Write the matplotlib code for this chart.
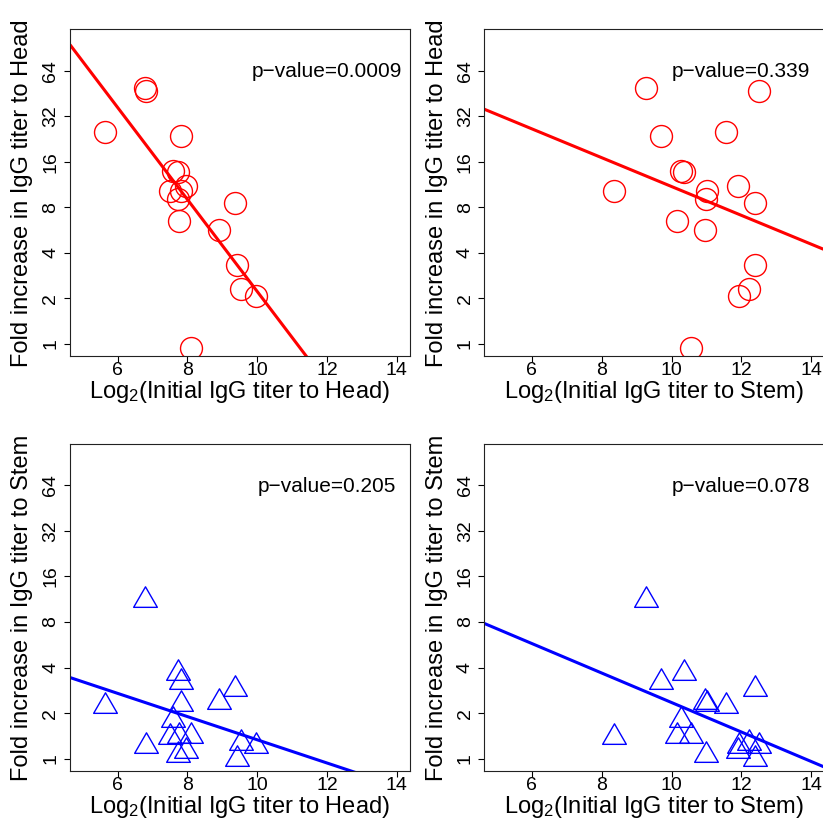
import numpy as np
import matplotlib
matplotlib.use('Agg')
import matplotlib.pyplot as plt
from matplotlib.path import Path
from matplotlib.ticker import NullLocator

plt.rcParams['font.family'] = ['Liberation Sans', 'DejaVu Sans']
plt.rcParams['mathtext.fontset'] = 'custom'
plt.rcParams['mathtext.rm'] = 'Liberation Sans'
plt.rcParams['mathtext.it'] = 'Liberation Sans:italic'
plt.rcParams['mathtext.bf'] = 'Liberation Sans:bold'

# ---- data (one entry per subject) ----
head_initial = [5.64, 6.80, 6.82, 7.81, 7.58, 7.74, 7.50, 7.72, 7.83, 7.97,
                7.75, 8.91, 9.35, 9.41, 9.54, 9.96, 8.09]
stem_initial = [11.55, 9.28, 12.50, 9.70, 10.27, 10.36, 8.35, 10.99, 11.02, 11.90,
                10.16, 10.97, 12.40, 12.40, 12.21, 11.92, 10.55]
head_fold = [25.1, 49.5, 47.2, 23.6, 14.0, 13.6, 10.3, 9.1, 10.2, 11.0,
             6.5, 5.7, 8.6, 3.3, 2.3, 2.07, 0.94]
stem_fold = [2.23, 11.2, 1.21, 3.23, 1.79, 3.67, 1.385, 1.05, 2.28, 1.13,
             1.40, 2.37, 2.89, 0.99, 1.26, 1.21, 1.42]
p_values = ["0.0009", "0.339", "0.205", "0.078"]
y_ticks = [1, 2, 4, 8, 16, 32, 64]
x_ticks = [6, 8, 10, 12, 14]

W, H = 823, 819
fig = plt.figure(figsize=(W / 100, H / 100), dpi=100)

tri = Path([(0, 1.555), (1.347, -0.778), (-1.347, -0.778), (0, 1.555)],
           [Path.MOVETO, Path.LINETO, Path.LINETO, Path.CLOSEPOLY])

panels = [
    (0, 0, head_initial, head_fold, 'Head', 'Head', 'red', 'o', p_values[0]),
    (0, 1, stem_initial, head_fold, 'Stem', 'Head', 'red', 'o', p_values[1]),
    (1, 0, head_initial, stem_fold, 'Head', 'Stem', 'blue', tri, p_values[2]),
    (1, 1, stem_initial, stem_fold, 'Stem', 'Stem', 'blue', tri, p_values[3]),
]

lefts = [70, 484.3]
tops = [29.3, 444]
pw, ph = 339.5, 326.7

for row, col, x, y, xname, yname, color, marker, p in panels:
    left, top = lefts[col], tops[row]
    ax = fig.add_axes([left / W, 1 - (top + ph) / H, pw / W, ph / H])
    ax.set_yscale('log', base=2)
    ax.set_xlim(4.64, 14.36)
    ax.set_ylim(10 ** -0.08, 10 ** 2.08)
    ax.yaxis.set_minor_locator(NullLocator())
    ax.xaxis.set_minor_locator(NullLocator())
    ax.set_xticks(x_ticks, labels=[str(v) for v in x_ticks])
    ax.set_yticks(y_ticks, labels=[str(v) for v in y_ticks], rotation=90, va='center')
    ax.tick_params(direction='out', length=4.1, width=0.8, labelsize=14, color='black')
    ax.tick_params(axis='x', pad=0.3)
    ax.tick_params(axis='y', pad=3.5)
    for s in ax.spines.values():
        s.set_linewidth(0.8)
        s.set_color('#222222')

    xa = np.array(x)
    ly = np.log2(np.array(y))
    slope, icpt = np.polyfit(xa, ly, 1)
    xs = np.array(ax.get_xlim())
    ax.plot(xs, 2 ** (icpt + slope * xs), color=color, lw=2.2, solid_capstyle='butt')

    if marker == 'o':
        ax.plot(xa, y, ls='none', marker='o', ms=15.8, mfc='none', mec=color, mew=1.0)
    else:
        ax.plot(xa, y, ls='none', marker=marker, ms=19.7, mfc='none', mec=color, mew=1.0)

    ax.annotate('p\u2212value=' + p, xy=(12, 64), xycoords='data',
                xytext=(0, -6.5), textcoords='offset pixels',
                ha='center', va='baseline', fontsize=15)

    fig.text((left + pw / 2 - 0.5) / W, 1 - (top + 368.5) / H,
             'Log$_2$(Initial IgG titer to ' + xname + ')',
             ha='center', va='baseline', fontsize=17)
    fig.text((left - 47.7) / W, 1 - (top + 163.4) / H,
             'Fold increase in IgG titer to ' + yname,
             ha='center', va='center', rotation=90, fontsize=17)

fig.savefig('out.png', dpi=100)
